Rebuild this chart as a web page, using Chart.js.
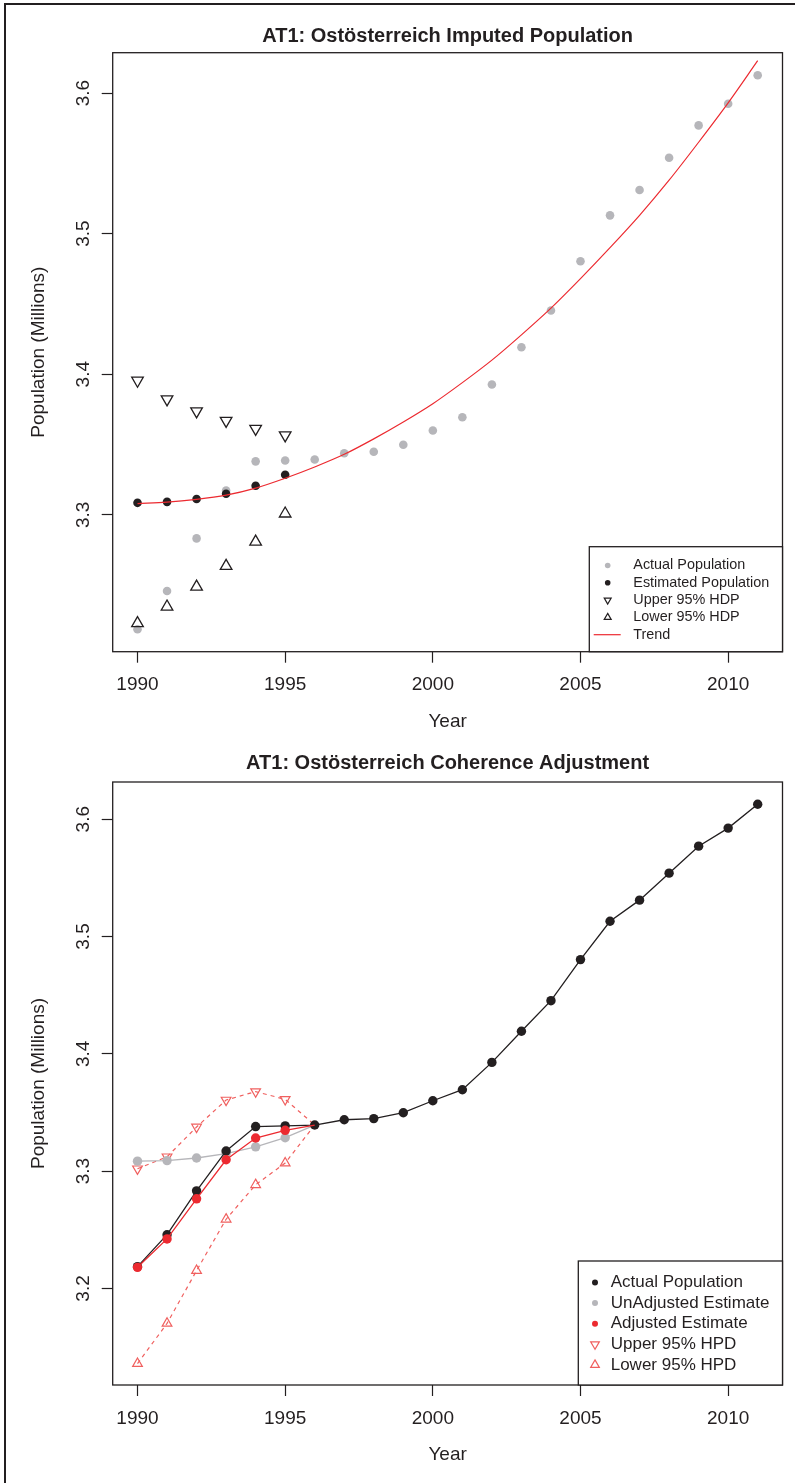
<!DOCTYPE html>
<html>
<head>
<meta charset="utf-8">
<script src="https://cdn.jsdelivr.net/npm/chart.js@4.4.0/dist/chart.umd.min.js"></script>
<style>
  html, body { margin: 0; padding: 0; background: #fff; }
  body { width: 795px; height: 1483px; position: relative; overflow: hidden; }
  #frame { position: absolute; left: 4px; top: 3px; width: 820px; height: 1520px;
           border-left: 2px solid #231f20; border-top: 2px solid #231f20; }
  canvas { position: absolute; left: 0; }
  #topChart { top: 0; }
  #bottomChart { top: 740px; }
</style>
</head>
<body>
<div id="frame"></div>
<canvas id="topChart" width="795" height="740"></canvas>
<canvas id="bottomChart" width="795" height="743"></canvas>
<script>
// ---- data ----
const years = [1990, 1991, 1992, 1993, 1994, 1995, 1996, 1997, 1998, 1999, 2000,
               2001, 2002, 2003, 2004, 2005, 2006, 2007, 2008, 2009, 2010, 2011];
const actualPop = [3.2186, 3.2458, 3.2832, 3.3172, 3.3380, 3.3386, 3.3393, 3.3438, 3.3448, 3.3498, 3.3600,
                   3.3694, 3.3927, 3.4192, 3.4453, 3.4803, 3.5130, 3.5310, 3.5540, 3.5770, 3.5924, 3.6127];
const trendPop = [3.3080, 3.3090, 3.3110, 3.3140, 3.3190, 3.3260, 3.3340, 3.3430, 3.3540, 3.3660, 3.3790,
                  3.3940, 3.4100, 3.4280, 3.4470, 3.4680, 3.4900, 3.5130, 3.5380, 3.5650, 3.5930, 3.6230];

// top panel: imputation years
const estYears = [1990, 1991, 1992, 1993, 1994, 1995];
const estimatedPop = [3.3085, 3.3092, 3.3112, 3.3150, 3.3207, 3.3285];
const upperHDP = [3.3955, 3.3822, 3.3737, 3.3669, 3.3612, 3.3566];
const lowerHDP = [3.2228, 3.2346, 3.2488, 3.2635, 3.2808, 3.3008];

// bottom panel: coherence adjustment (joins the actual series in 1996)
const adjYears = [1990, 1991, 1992, 1993, 1994, 1995, 1996];
const unadjustedEst = [3.3085, 3.3090, 3.3112, 3.3150, 3.3207, 3.3285, 3.3393];
const adjustedEst = [3.2180, 3.2422, 3.2764, 3.3097, 3.3282, 3.3348, 3.3393];
const upperHPD = [3.3020, 3.3122, 3.3376, 3.3606, 3.3678, 3.3612, 3.3393];
const lowerHPD = [3.1360, 3.1702, 3.2152, 3.2590, 3.2884, 3.3069, 3.3393];

// axes
const xTicks = [1990, 1995, 2000, 2005, 2010];
const yTicksTop = [3.3, 3.4, 3.5, 3.6];
const yTicksBottom = [3.2, 3.3, 3.4, 3.5, 3.6];

const FONT = "'Liberation Sans', Arial, Helvetica, sans-serif";
const INK = '#231f20';
const GREY = '#b6b6ba';
const RED = '#ec2a30';
const PINK = '#f0605f';
const HOLLOW = 'rgba(0,0,0,0)';

function pairs(xs, ys) {
  return xs.map((x, i) => ({ x: x, y: ys[i] }));
}

// box round the plot region + R style legend in the bottom right corner
const frameAndLegend = {
  id: 'frameAndLegend',
  afterDatasetsDraw(chart, args, lg) {
    const { ctx, chartArea: a } = chart;
    ctx.save();
    ctx.strokeStyle = INK;
    ctx.lineWidth = 1.3;
    ctx.strokeRect(a.left, a.top, a.right - a.left, a.bottom - a.top);

    const lx = a.right - lg.width;
    const ly = a.bottom - lg.height;
    ctx.fillStyle = '#fff';
    ctx.fillRect(lx, ly, lg.width, lg.height);
    ctx.strokeRect(lx, ly, lg.width, lg.height);

    ctx.font = lg.fontSize + 'px ' + FONT;
    ctx.textBaseline = 'middle';
    ctx.textAlign = 'left';
    lg.items.forEach((it, i) => {
      const y = ly + lg.firstRow + i * lg.rowGap;
      const mx = lx + lg.markerX;
      if (it.line) {
        ctx.strokeStyle = it.color;
        ctx.lineWidth = 1.2;
        ctx.beginPath();
        ctx.moveTo(mx - 14, y);
        ctx.lineTo(mx + 13, y);
        ctx.stroke();
      } else {
        ctx.fillStyle = it.fill;
        ctx.strokeStyle = it.color;
        ctx.lineWidth = it.fill === HOLLOW ? 1.2 : 0;
        Chart.helpers.drawPoint(ctx, {
          pointStyle: it.style, rotation: it.rot || 0,
          radius: it.r, borderWidth: it.fill === HOLLOW ? 1.2 : 0
        }, mx, y);
      }
      ctx.fillStyle = INK;
      ctx.fillText(it.label, lx + lg.textX, y);
    });
    ctx.restore();
  }
};

function axes(yMin, yMax, yTicks, xAxisH, yearPad) {
  const tickFont = { family: FONT, size: 19 };
  const grid = { drawOnChartArea: false, drawTicks: true, tickLength: 11, tickWidth: 1.2, tickColor: INK };
  return {
    x: {
      type: 'linear', min: 1989.16, max: 2011.84,
      afterBuildTicks: s => { s.ticks = xTicks.map(v => ({ value: v })); },
      afterFit: s => { s.height = xAxisH; },
      grid: grid,
      border: { display: false },
      ticks: { autoSkip: false, minRotation: 0, maxRotation: 0, font: tickFont, color: INK, padding: 11,
               callback: v => String(v) },
      title: { display: true, text: 'Year', font: tickFont, color: INK, padding: { top: 0, bottom: yearPad } }
    },
    y: {
      type: 'linear', min: yMin, max: yMax,
      afterBuildTicks: s => { s.ticks = yTicks.map(v => ({ value: v })); },
      afterFit: s => { s.width = 112.7; },
      grid: grid,
      border: { display: false },
      ticks: { autoSkip: false, minRotation: 90, maxRotation: 90, crossAlign: 'center', font: tickFont,
               color: INK, padding: 5, callback: v => v.toFixed(1) },
      title: { display: true, text: 'Population (Millions)', font: tickFont, color: INK,
               padding: { top: 27.2, bottom: 0 } }
    }
  };
}

function titleOpts(text, padTop, padBottom) {
  return {
    display: true, text: text, color: INK, fullSize: false,
    font: { family: FONT, size: 20, weight: 'bold' },
    padding: { top: padTop, bottom: padBottom }
  };
}

// ---- top panel ----
new Chart(document.getElementById('topChart'), {
  type: 'line',
  data: {
    datasets: [
      { label: 'Trend', data: pairs(years, trendPop), order: 1,
        borderColor: RED, borderWidth: 1.2, pointRadius: 0, cubicInterpolationMode: 'monotone', fill: false },
      { label: 'Lower 95% HDP', data: pairs(estYears, lowerHDP), order: 2, showLine: false,
        pointStyle: 'triangle', pointRadius: 6.7, pointBorderColor: INK, pointBackgroundColor: HOLLOW, pointBorderWidth: 1.3 },
      { label: 'Upper 95% HDP', data: pairs(estYears, upperHDP), order: 3, showLine: false,
        pointStyle: 'triangle', pointRotation: 180, pointRadius: 6.7, pointBorderColor: INK,
        pointBackgroundColor: HOLLOW, pointBorderWidth: 1.3 },
      { label: 'Estimated Population', data: pairs(estYears, estimatedPop), order: 4, showLine: false,
        pointRadius: 4.3, pointBorderWidth: 0, pointBackgroundColor: INK },
      { label: 'Actual Population', data: pairs(years, actualPop), order: 5, showLine: false,
        pointRadius: 4.3, pointBorderWidth: 0, pointBackgroundColor: GREY }
    ]
  },
  options: {
    responsive: false, animation: false, events: [],
    layout: { padding: { left: 0, right: 12.5, top: 0, bottom: 0 } },
    scales: axes(3.2026, 3.6287, yTicksTop, 88.3, 6.6),
    plugins: {
      legend: { display: false }, tooltip: { enabled: false },
      title: titleOpts('AT1: Ostösterreich Imputed Population', 24, 4.7),
      frameAndLegend: {
        width: 193.2, height: 105, firstRow: 18.8, rowGap: 17.3, markerX: 18.4, textX: 44, fontSize: 14.4,
        items: [
          { label: 'Actual Population', style: 'circle', r: 2.8, fill: GREY, color: GREY },
          { label: 'Estimated Population', style: 'circle', r: 2.8, fill: INK, color: INK },
          { label: 'Upper 95% HDP', style: 'triangle', rot: 180, r: 4, fill: HOLLOW, color: INK },
          { label: 'Lower 95% HDP', style: 'triangle', r: 4, fill: HOLLOW, color: INK },
          { label: 'Trend', line: true, color: RED }
        ]
      }
    }
  },
  plugins: [frameAndLegend]
});

// ---- bottom panel ----
const hideLast = n => adjYears.map((y, i) => (i === adjYears.length - 1 ? 0 : n));

new Chart(document.getElementById('bottomChart'), {
  type: 'line',
  data: {
    datasets: [
      { label: 'Adjusted Estimate', data: pairs(adjYears, adjustedEst), order: 1,
        borderColor: RED, borderWidth: 1.3, pointRadius: hideLast(4.7), pointBorderWidth: 0,
        pointBackgroundColor: RED, tension: 0 },
      { label: 'Actual Population', data: pairs(years, actualPop), order: 2,
        borderColor: INK, borderWidth: 1.3, pointRadius: 4.7, pointBorderWidth: 0,
        pointBackgroundColor: INK, tension: 0 },
      { label: 'UnAdjusted Estimate', data: pairs(adjYears, unadjustedEst), order: 3,
        borderColor: GREY, borderWidth: 1.3, pointRadius: hideLast(4.7), pointBorderWidth: 0,
        pointBackgroundColor: GREY, tension: 0 },
      { label: 'Lower 95% HPD', data: pairs(adjYears, lowerHPD), order: 4,
        borderColor: PINK, borderWidth: 1.2, borderDash: [4, 4], tension: 0,
        pointStyle: 'triangle', pointRadius: hideLast(5.6), pointBorderColor: PINK,
        pointBackgroundColor: HOLLOW, pointBorderWidth: 1.2 },
      { label: 'Upper 95% HPD', data: pairs(adjYears, upperHPD), order: 5,
        borderColor: PINK, borderWidth: 1.2, borderDash: [4, 4], tension: 0,
        pointStyle: 'triangle', pointRotation: 180, pointRadius: hideLast(5.6), pointBorderColor: PINK,
        pointBackgroundColor: HOLLOW, pointBorderWidth: 1.2 }
    ]
  },
  options: {
    responsive: false, animation: false, events: [],
    layout: { padding: { left: 0, right: 12.5, top: 0, bottom: 0 } },
    scales: axes(3.1177, 3.6317, yTicksBottom, 98, 16.6),
    plugins: {
      legend: { display: false }, tooltip: { enabled: false },
      title: titleOpts('AT1: Ostösterreich Coherence Adjustment', 11, 7),
      frameAndLegend: {
        width: 204.2, height: 124, firstRow: 21.5, rowGap: 20.6, markerX: 16.7, textX: 32.4, fontSize: 17,
        items: [
          { label: 'Actual Population', style: 'circle', r: 3, fill: INK, color: INK },
          { label: 'UnAdjusted Estimate', style: 'circle', r: 3, fill: GREY, color: GREY },
          { label: 'Adjusted Estimate', style: 'circle', r: 3, fill: RED, color: RED },
          { label: 'Upper 95% HPD', style: 'triangle', rot: 180, r: 5, fill: HOLLOW, color: PINK },
          { label: 'Lower 95% HPD', style: 'triangle', r: 5, fill: HOLLOW, color: PINK }
        ]
      }
    }
  },
  plugins: [frameAndLegend]
});
</script>
</body>
</html>
